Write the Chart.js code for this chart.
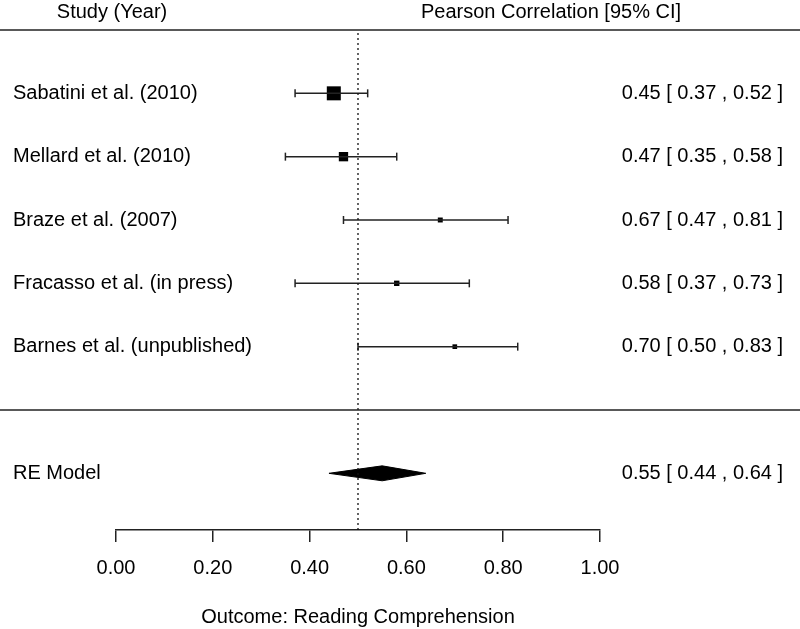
<!DOCTYPE html>
<html lang="en">
<head>
    <meta charset="UTF-8">
    <title>Forest plot - Reading Comprehension</title>
    <script src="https://cdn.jsdelivr.net/npm/chart.js"></script>
    <style>
        html, body { margin: 0; padding: 0; background: #ffffff; }
        .chart-box { width: 800px; height: 629px; position: relative; }
    </style>
</head>
<body>

<div class="chart-box">
    <canvas id="forest"></canvas>
</div>

<script>
// Data
const studies = ['Sabatini et al. (2010)', 'Mellard et al. (2010)', 'Braze et al. (2007)',
                 'Fracasso et al. (in press)', 'Barnes et al. (unpublished)'];
const estimates = [0.45, 0.47, 0.67, 0.58, 0.70];
const ciLower   = [0.37, 0.35, 0.47, 0.37, 0.50];
const ciUpper   = [0.52, 0.58, 0.81, 0.73, 0.83];
const rows      = [5, 4, 3, 2, 1];

const reLabel = 'RE Model';
const reEstimate = 0.55;
const reLower = 0.44;
const reUpper = 0.64;
const reRow = -1;

const refValue = 0.5;
const tickValues = [0, 0.2, 0.4, 0.6, 0.8, 1.0];

// marker size per study (square scaled with weight)
const markerRadius = [9.9, 6.6, 3.5, 3.8, 3.3];

const FONT = 'Liberation Sans, Arial, Helvetica, sans-serif';
const INK = '#222222';
const yMin = -1.895, yMax = 6;

function fmt(v) { return v.toFixed(2); }

const datasets = [];

// dotted reference line
datasets.push({
    data: [{x: refValue, y: yMin}, {x: refValue, y: yMax}],
    showLine: true, borderColor: '#111', borderWidth: 1.3, borderDash: [2, 3],
    pointRadius: 0
});

// confidence intervals with end caps
studies.forEach((s, i) => {
    datasets.push({
        data: [{x: ciLower[i], y: rows[i]}, {x: ciUpper[i], y: rows[i]}],
        showLine: true, borderColor: INK, borderWidth: 1.5,
        pointStyle: 'line', rotation: 90, pointRadius: 4,
        pointBorderColor: INK, pointBorderWidth: 1.5
    });
});

// study estimates
datasets.push({
    data: estimates.map((v, i) => ({x: v, y: rows[i]})),
    pointStyle: 'rect', pointRadius: markerRadius,
    pointBackgroundColor: '#000', pointBorderWidth: 0
});

// summary diamond
const dh = 0.118;
datasets.push({
    data: [{x: reLower, y: reRow}, {x: reEstimate, y: reRow + dh}, {x: reUpper, y: reRow},
           {x: reEstimate, y: reRow - dh}, {x: reLower, y: reRow}],
    showLine: true, borderColor: '#000', borderWidth: 1, backgroundColor: '#000',
    fill: 'shape', pointRadius: 0
});

const forestText = {
    id: 'forestText',
    afterDraw(chart) {
        const ctx = chart.ctx;
        const y = chart.scales.y;
        const W = chart.width;
        ctx.save();
        // horizontal rules
        ctx.strokeStyle = INK;
        ctx.lineWidth = 1.5;
        [6, 0].forEach(r => {
            const py = y.getPixelForValue(r);
            ctx.beginPath();
            ctx.moveTo(0, py);
            ctx.lineTo(W, py);
            ctx.stroke();
        });

        ctx.fillStyle = '#000';
        ctx.font = '20px ' + FONT;
        ctx.textBaseline = 'middle';

        // headers
        ctx.textAlign = 'center';
        ctx.fillText('Study (Year)', 112, 12);
        ctx.fillText('Pearson Correlation [95% CI]', 551, 12);

        // rows
        studies.forEach((s, i) => {
            const py = y.getPixelForValue(rows[i]);
            ctx.textAlign = 'left';
            ctx.fillText(s, 13, py);
            ctx.textAlign = 'right';
            ctx.fillText(fmt(estimates[i]) + ' [ ' + fmt(ciLower[i]) + ' , ' + fmt(ciUpper[i]) + ' ]', 783, py);
        });
        const pr = y.getPixelForValue(reRow);
        ctx.textAlign = 'left';
        ctx.fillText(reLabel, 13, pr);
        ctx.textAlign = 'right';
        ctx.fillText(fmt(reEstimate) + ' [ ' + fmt(reLower) + ' , ' + fmt(reUpper) + ' ]', 783, pr);
        ctx.restore();
    }
};

new Chart(document.getElementById('forest'), {
    type: 'scatter',
    data: { datasets: datasets },
    options: {
        responsive: true,
        maintainAspectRatio: false,
        animation: false,
        events: [],
        layout: { padding: { top: 30, left: 116, right: 200, bottom: 0 } },
        plugins: { legend: { display: false }, tooltip: { enabled: false } },
        elements: { line: { tension: 0 } },
        scales: {
            x: {
                type: 'linear', min: 0, max: 1,
                afterBuildTicks: (s) => { s.ticks = tickValues.map(v => ({value: v})); },
                afterFit: (s) => { s.height = 99; },
                grid: { drawOnChartArea: false, drawTicks: true, tickLength: 12, color: INK, lineWidth: 1.5 },
                border: { display: true, color: INK, width: 1.5 },
                ticks: { color: '#000', font: { family: FONT, size: 20 }, padding: 14,
                         maxRotation: 0, callback: (v) => fmt(v) },
                title: { display: true, text: 'Outcome: Reading Comprehension', color: '#000',
                         font: { family: FONT, size: 20 }, padding: { top: 0, bottom: 0 } }
            },
            y: { type: 'linear', min: yMin, max: yMax, display: false }
        }
    },
    plugins: [forestText]
});
</script>

</body>
</html>
